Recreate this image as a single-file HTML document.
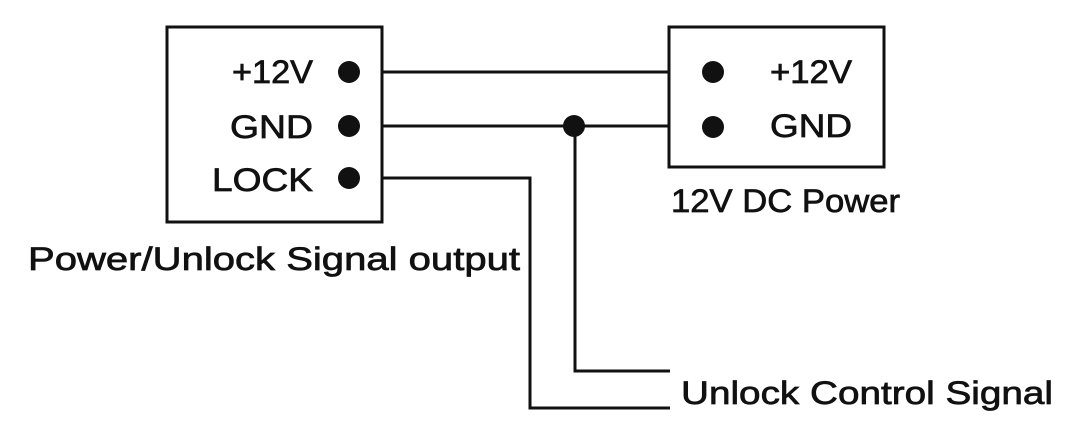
<!DOCTYPE html>
<html><head><style>html,body{margin:0;padding:0;background:#fff;}svg{display:block}</style></head>
<body>
<svg width="1070" height="448" viewBox="0 0 1070 448" xmlns="http://www.w3.org/2000/svg">
<rect width="1070" height="448" fill="#fff"/>
<g fill="none" stroke="#111" stroke-width="3">
<rect x="167" y="27" width="215" height="195"/>
<rect x="669" y="27" width="215" height="140"/>
<polyline points="382,72 669,72"/>
<polyline points="382,126 669,126"/>
<polyline points="382,178 530,178 530,408 670,408"/>
<polyline points="575,126 575,371 670,371"/>
</g>
<g fill="#111">
<circle cx="349" cy="72" r="11"/>
<circle cx="349" cy="126" r="11"/>
<circle cx="349" cy="178" r="11"/>
<circle cx="574" cy="126" r="11"/>
<circle cx="713" cy="72" r="11"/>
<circle cx="713" cy="127" r="11"/>
</g>
<g font-family="Liberation Sans, sans-serif" font-size="32" fill="#111" stroke="#111" stroke-width="0.7">
<text x="232" y="83" textLength="81" lengthAdjust="spacingAndGlyphs">+12V</text>
<text x="230" y="138" textLength="83" lengthAdjust="spacingAndGlyphs">GND</text>
<text x="212" y="191" textLength="101" lengthAdjust="spacingAndGlyphs">LOCK</text>
<text x="770" y="83" textLength="82" lengthAdjust="spacingAndGlyphs">+12V</text>
<text x="770" y="137" textLength="82" lengthAdjust="spacingAndGlyphs">GND</text>
<text x="671" y="212" textLength="229" lengthAdjust="spacingAndGlyphs">12V DC Power</text>
<text x="28" y="270" textLength="492" lengthAdjust="spacingAndGlyphs">Power/Unlock Signal output</text>
<text x="681" y="404" textLength="372" lengthAdjust="spacingAndGlyphs">Unlock Control Signal</text>
</g>
</svg>
</body></html>
